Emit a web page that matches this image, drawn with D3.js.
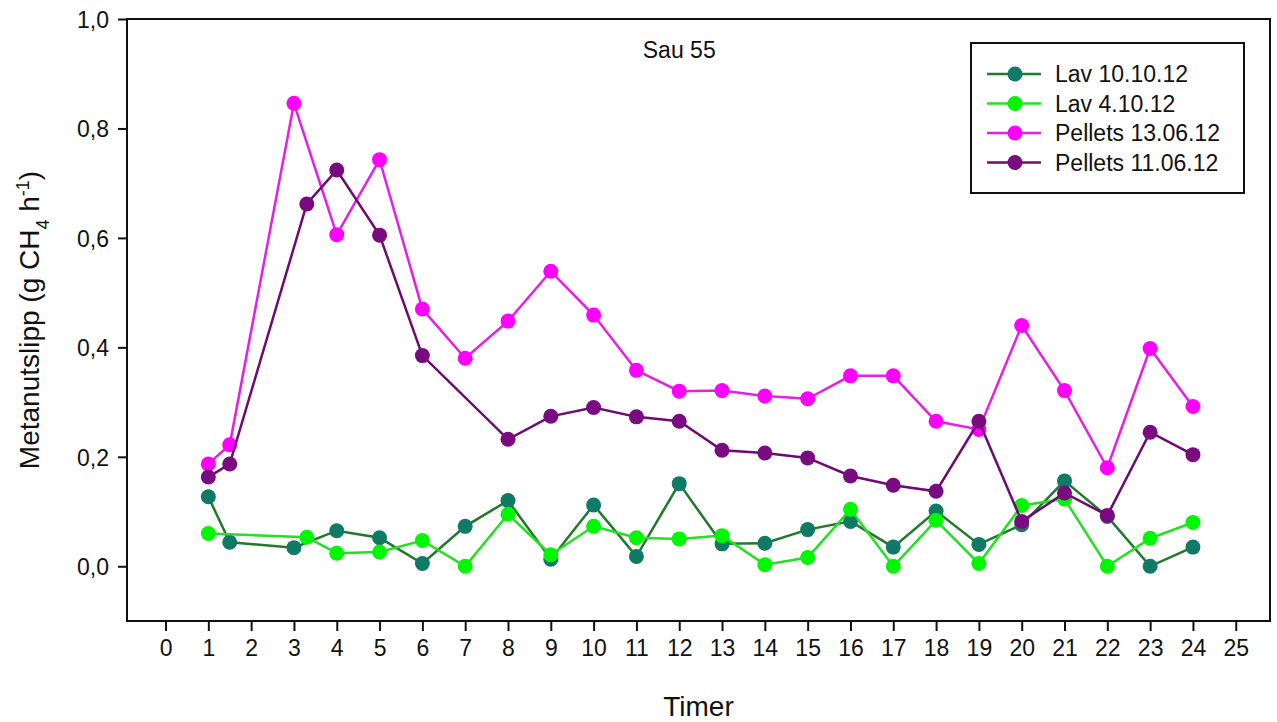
<!DOCTYPE html>
<html>
<head>
<meta charset="utf-8">
<script src="https://cdn.jsdelivr.net/npm/d3@7"></script>
<style>
  body { margin: 0; background: #fff; }
  text { font-family: "Liberation Sans", Arial, sans-serif; fill: #111; }
</style>
</head>
<body>
<div id="chart"></div>
<script>
// series data (hours, g CH4 per hour)
const seriesNames = ['Lav 10.10.12', 'Lav 4.10.12', 'Pellets 13.06.12', 'Pellets 11.06.12'];

const lav1010Hours = [1, 1.5, 3, 4, 5, 6, 7, 8, 9, 10, 11, 12, 13, 14, 15, 16, 17, 18, 19, 20, 21, 22, 23, 24];
const lav1010Values = [0.127, 0.044, 0.034, 0.065, 0.052, 0.005, 0.073, 0.120, 0.013, 0.112, 0.018, 0.151,
  0.041, 0.042, 0.067, 0.082, 0.035, 0.101, 0.040, 0.076, 0.156, 0.091, 0.0, 0.035];

const lav410Hours = [1, 3.3, 4, 5, 6, 7, 8, 9, 10, 11, 12, 13, 14, 15, 16, 17, 18, 19, 20, 21, 22, 23, 24];
const lav410Values = [0.060, 0.053, 0.024, 0.026, 0.047, 0.0, 0.095, 0.021, 0.073, 0.052, 0.050, 0.056,
  0.003, 0.016, 0.104, 0.0, 0.084, 0.005, 0.111, 0.123, 0.0, 0.051, 0.080];

const pel1306Hours = [1, 1.5, 3, 4, 5, 6, 7, 8, 9, 10, 11, 12, 13, 14, 15, 16, 17, 18, 19, 20, 21, 22, 23, 24];
const pel1306Values = [0.187, 0.222, 0.846, 0.606, 0.743, 0.470, 0.380, 0.448, 0.539, 0.459, 0.358, 0.320,
  0.321, 0.311, 0.306, 0.348, 0.348, 0.265, 0.250, 0.440, 0.321, 0.180, 0.398, 0.292];

const pel1106Hours = [1, 1.5, 3.3, 4, 5, 6, 8, 9, 10, 11, 12, 13, 14, 15, 16, 17, 18, 19, 20, 21, 22, 23, 24];
const pel1106Values = [0.163, 0.187, 0.662, 0.724, 0.605, 0.385, 0.232, 0.274, 0.290, 0.273, 0.265, 0.212,
  0.207, 0.198, 0.165, 0.148, 0.137, 0.265, 0.082, 0.134, 0.093, 0.245, 0.204];

const xTicks = d3.range(0, 26);
const yTicks = [0, 0.2, 0.4, 0.6, 0.8, 1.0];

const lineColors = ['#1f7a2a', '#22e022', '#e61ee6', '#6e0a74'];
const dotColors = ['#0f7a66', '#00f700', '#ff00ff', '#7a0a80'];

const series = [
  [lav1010Hours, lav1010Values],
  [lav410Hours, lav410Values],
  [pel1306Hours, pel1306Values],
  [pel1106Hours, pel1106Values]
].map(([h, v], i) => ({ name: seriesNames[i], points: h.map((x, j) => ({ x, y: v[j] })) }));

const W = 1277, H = 722;
const margin = { top: 19, right: 7, bottom: 101, left: 127 };
const width = W - margin.left - margin.right;
const height = H - margin.top - margin.bottom;

const svg = d3.select('#chart').append('svg')
  .attr('width', W)
  .attr('height', H);

const g = svg.append('g')
  .attr('transform', `translate(${margin.left},${margin.top})`);

const x = d3.scaleLinear().domain([-0.9, 25.8]).range([0, width]);
const y = d3.scaleLinear().domain([-0.1, 1.0]).range([height, 0]);

const fmt = d => d3.format('.1f')(d).replace('.', ',');

const xAxis = g.append('g')
  .attr('transform', `translate(0,${height})`)
  .call(d3.axisBottom(x).tickValues(xTicks).tickSize(10).tickPadding(9).tickFormat(d3.format('d')));
xAxis.select('.domain').remove();
xAxis.selectAll('line').attr('stroke', '#111').attr('stroke-width', 2);
xAxis.selectAll('text').style('font-size', '23px').attr('fill', '#111');

const yAxis = g.append('g')
  .call(d3.axisLeft(y).tickValues(yTicks).tickSize(9).tickPadding(9).tickFormat(fmt));
yAxis.select('.domain').remove();
yAxis.selectAll('line').attr('stroke', '#111').attr('stroke-width', 2);
yAxis.selectAll('text').style('font-size', '23px').attr('fill', '#111').attr('dy', '0.36em');

// frame
g.append('rect')
  .attr('width', width)
  .attr('height', height)
  .attr('fill', 'none')
  .attr('stroke', '#111')
  .attr('stroke-width', 2);

const line = d3.line().x(d => x(d.x)).y(d => y(d.y));

series.forEach((s, i) => {
  const sg = g.append('g');
  sg.append('path')
    .datum(s.points)
    .attr('d', line)
    .attr('fill', 'none')
    .attr('stroke', lineColors[i])
    .attr('stroke-width', 2.5);
  sg.selectAll('circle')
    .data(s.points)
    .enter().append('circle')
    .attr('cx', d => x(d.x))
    .attr('cy', d => y(d.y))
    .attr('r', 7.5)
    .attr('fill', dotColors[i]);
});

// title
g.append('text')
  .attr('x', x(12))
  .attr('y', 39)
  .attr('text-anchor', 'middle')
  .style('font-size', '23px')
  .text('Sau 55');

// axis titles
svg.append('text')
  .attr('x', margin.left + width / 2)
  .attr('y', 716)
  .attr('text-anchor', 'middle')
  .style('font-size', '28px')
  .text('Timer');

const yt = svg.append('text')
  .attr('transform', `translate(39,${margin.top + height / 2}) rotate(-90)`)
  .attr('text-anchor', 'middle')
  .style('font-size', '28px');
yt.append('tspan').text('Metanutslipp (g CH');
yt.append('tspan').attr('baseline-shift', 'sub').style('font-size', '18px').text('4');
yt.append('tspan').text(' h');
yt.append('tspan').attr('baseline-shift', 'super').style('font-size', '18px').text('-1');
yt.append('tspan').text(')');

// legend
const legend = svg.append('g').attr('transform', 'translate(971,43)');
legend.append('rect')
  .attr('width', 273)
  .attr('height', 150)
  .attr('fill', '#fff')
  .attr('stroke', '#111')
  .attr('stroke-width', 2);

const items = legend.selectAll('.item')
  .data(seriesNames)
  .enter().append('g')
  .attr('class', 'item')
  .attr('transform', (d, i) => `translate(0,${31 + i * 29.5})`);

items.append('line')
  .attr('x1', 16).attr('x2', 70)
  .attr('stroke', (d, i) => lineColors[i])
  .attr('stroke-width', 2.5);
items.append('circle')
  .attr('cx', 44)
  .attr('r', 7.5)
  .attr('fill', (d, i) => dotColors[i]);
items.append('text')
  .attr('x', 84)
  .attr('dy', '0.36em')
  .style('font-size', '23px')
  .text(d => d);
</script>
</body>
</html>
